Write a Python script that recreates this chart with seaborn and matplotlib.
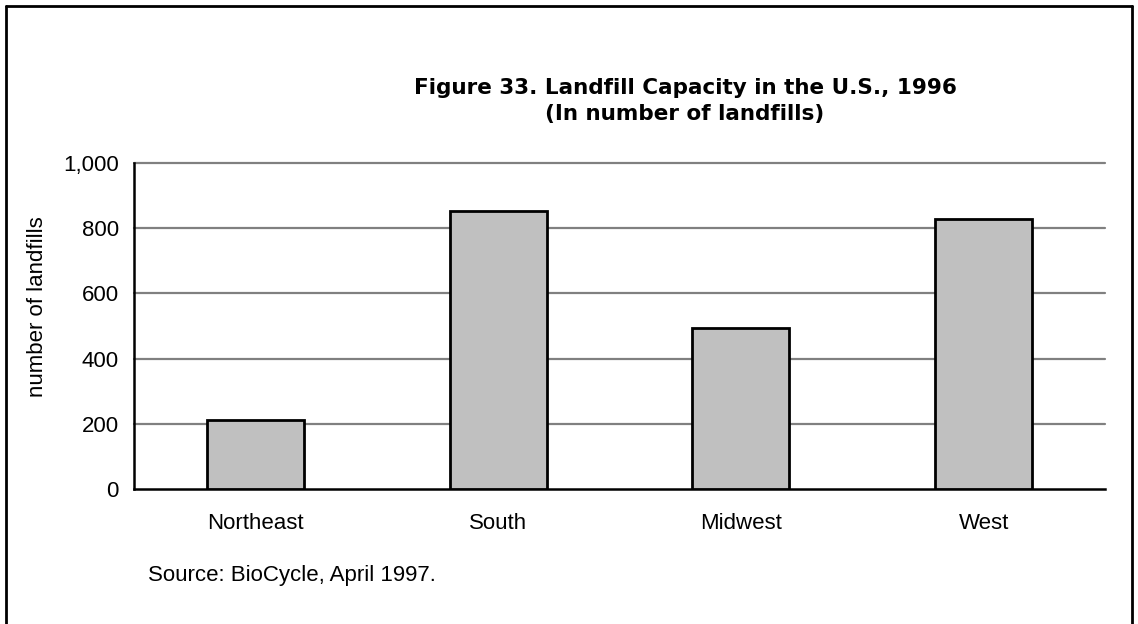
import matplotlib
matplotlib.use("Agg")
import matplotlib.pyplot as plt
import seaborn as sns
import pandas as pd
from matplotlib.lines import Line2D

regions = ["Northeast", "South", "Midwest", "West"]
landfills = [212, 852, 493, 828]
yticks = [0, 200, 400, 600, 800, 1000]
ytick_labels = ["0", "200", "400", "600", "800", "1,000"]

sns.set_theme(style="white")
plt.rcParams['font.family'] = ['Liberation Sans', 'DejaVu Sans']
for k in ["text.color", "axes.labelcolor", "xtick.color", "ytick.color"]:
    plt.rcParams[k] = "black"

W, H = 1138, 624
fig = plt.figure(figsize=(W / 100, H / 100), dpi=100)
ax = fig.add_axes([134 / W, 1 - 489 / H, (1105 - 134) / W, (489 - 163) / H])

df = pd.DataFrame({"region": regions, "n": landfills})
sns.barplot(data=df, x="region", y="n", ax=ax, color="#C0C0C0",
            saturation=1, width=0.4, edgecolor="black", linewidth=2, zorder=3)

ax.set_xlim(-0.5, len(regions) - 0.5)
ax.set_ylim(0, 1000)
ax.set_yticks(yticks)
ax.set_yticklabels(ytick_labels, fontsize=16)
for y in yticks[1:]:
    ax.axhline(y, color="#808080", lw=1.6, zorder=1, clip_on=False)

ax.set_xticks([i - 0.5 for i in range(len(regions) + 1)])
ax.set_xticklabels([])
ax.set_xticks(range(len(regions)), minor=True)
ax.set_xticklabels(regions, minor=True, fontsize=16)
ax.tick_params(axis="x", which="minor", length=0, pad=17)
ax.tick_params(axis="x", which="major", direction="inout", length=10, width=1.6, color="black")
ax.tick_params(axis="y", direction="inout", length=10, width=1.6, color="black", pad=6)

for s in ["top", "right"]:
    ax.spines[s].set_visible(False)
for s in ["left", "bottom"]:
    ax.spines[s].set_color("black")
    ax.spines[s].set_linewidth(1.8)

ax.set_xlabel("")
ax.set_ylabel("")
fig.text(38 / W, 1 - 307 / H, "number of landfills", rotation=90,
         ha="center", va="center", fontsize=16)

fig.text(685 / W, 1 - 88 / H, "Figure 33. Landfill Capacity in the U.S., 1996",
         ha="center", va="center", fontsize=15.5, fontweight="bold",
         family=["DejaVu Sans"])
fig.text(685 / W, 1 - 114 / H, "(In number of landfills)",
         ha="center", va="center", fontsize=15.5, fontweight="bold",
         family=["DejaVu Sans"])
fig.text(148 / W, 1 - 575 / H, "Source: BioCycle, April 1997.",
         ha="left", va="center", fontsize=16)

# outer frame
fig.add_artist(Line2D([6 / W, 6 / W], [0, 1 - 6 / H], transform=fig.transFigure, color="black", lw=2))
fig.add_artist(Line2D([6 / W, 1132 / W], [1 - 6 / H, 1 - 6 / H], transform=fig.transFigure, color="black", lw=2))
fig.add_artist(Line2D([1132 / W, 1132 / W], [0, 1 - 6 / H], transform=fig.transFigure, color="black", lw=2))

fig.savefig("out.png", dpi=100)
